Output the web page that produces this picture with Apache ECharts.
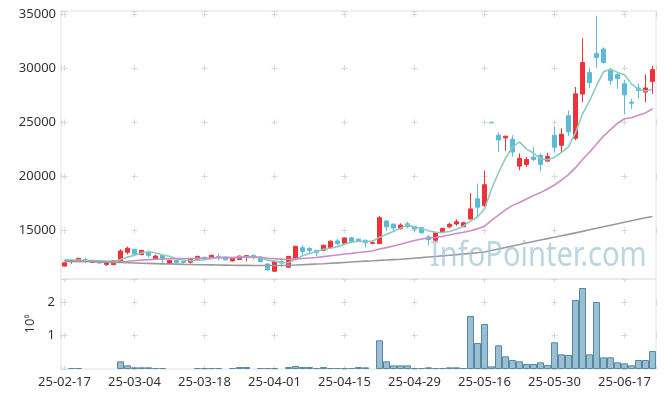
<!DOCTYPE html>
<html>
<head>
<meta charset="utf-8">
<script src="https://cdn.jsdelivr.net/npm/echarts@6.0.0/dist/echarts.min.js"></script>
<style>
  html, body { margin: 0; padding: 0; background: #fff; }
  #chart { width: 665px; height: 397px; }
</style>
</head>
<body>
<div id="chart"></div>
<script>
// trading days (yy-mm-dd)
const dates = [
  '25-02-17','25-02-18','25-02-19','25-02-20','25-02-21','25-02-24','25-02-25','25-02-26','25-02-27','25-02-28',
  '25-03-04','25-03-05','25-03-06','25-03-07','25-03-10','25-03-11','25-03-12','25-03-13','25-03-14','25-03-17',
  '25-03-18','25-03-19','25-03-20','25-03-21','25-03-24','25-03-25','25-03-26','25-03-27','25-03-28','25-03-31',
  '25-04-01','25-04-02','25-04-03','25-04-04','25-04-07','25-04-08','25-04-09','25-04-10','25-04-11','25-04-14',
  '25-04-15','25-04-16','25-04-17','25-04-18','25-04-21','25-04-22','25-04-23','25-04-24','25-04-25','25-04-28',
  '25-04-29','25-04-30','25-05-02','25-05-07','25-05-08','25-05-09','25-05-12','25-05-13','25-05-14','25-05-15',
  '25-05-16','25-05-19','25-05-20','25-05-21','25-05-22','25-05-23','25-05-26','25-05-27','25-05-28','25-05-29',
  '25-05-30','25-06-02','25-06-04','25-06-05','25-06-09','25-06-10','25-06-11','25-06-12','25-06-13','25-06-16',
  '25-06-17','25-06-18','25-06-19','25-06-20','25-06-23'
]

const opens = [
  11720, 12130, 12220, 12310, 12060, 12150, 11880, 11850, 12090, 13000,
  13280, 12780, 12970, 12370, 12740, 11970, 12250, 12150, 12080, 12280,
  12530, 12410, 12600, 12560, 12200, 12320, 12560, 12690, 12560, 11920,
  11250, 12150, 11620, 12410, 13420, 13340, 13180, 13180, 13430, 14050,
  13830, 14330, 14210, 14110, 13820, 13810, 15890, 15600, 15170, 15630,
  15390, 15280, 14420, 14110, 14810, 15350, 15610, 15350, 16070, 17940,
  17310, 25000, 23810, 23560, 23440, 20950, 21110, 21790, 21950, 21420,
  23810, 22880, 25610, 23530, 27610, 29590, 31360, 31770, 29810, 29400,
  28570, 26860, 28170, 27790, 28780
]

const closes = [
  12030, 12250, 12440, 12160, 12250, 12000, 12060, 12220, 13120, 13370,
  12810, 13180, 12720, 12650, 12370, 12250, 12060, 12060, 12360, 12620,
  12410, 12720, 12540, 12300, 12460, 12640, 12690, 12530, 12140, 11360,
  12160, 12000, 12620, 13550, 13070, 13150, 12970, 13650, 14020, 13800,
  14320, 13930, 14050, 13880, 13880, 16190, 15350, 15230, 15510, 15350,
  15140, 14790, 14180, 14790, 15210, 15580, 15820, 15730, 17000, 17160,
  19240, 24950, 23370, 23720, 22250, 21670, 21570, 21570, 21110, 21850,
  22690, 23900, 24120, 27630, 30520, 28660, 30990, 30520, 28870, 29030,
  27540, 26770, 27940, 28170, 29870
]

const lows = [
  11690, 11940, 12200, 12030, 11990, 11980, 11720, 11830, 12060, 12810,
  12620, 12750, 12500, 12330, 12000, 11900, 12040, 11940, 11950, 12250,
  12380, 12380, 12250, 12250, 12150, 12300, 12160, 12320, 12100, 11300,
  11200, 11630, 11600, 12380, 12710, 12810, 12620, 13150, 13400, 13620,
  13800, 13900, 14000, 13460, 13740, 13780, 14980, 14890, 15110, 15200,
  14890, 14760, 13650, 13960, 14780, 15210, 15450, 15320, 16030, 16350,
  17200, 24950, 22250, 22350, 21830, 20580, 20890, 21420, 20480, 21360,
  22200, 22200, 23750, 23350, 26860, 28170, 30030, 30430, 28470, 28100,
  25740, 26240, 27170, 26860, 27630
]

const highs = [
  12060, 12310, 12480, 12500, 12280, 12180, 12080, 12250, 13280, 13530,
  13300, 13220, 13180, 12780, 12760, 12280, 12300, 12180, 12450, 12680,
  12600, 12780, 12870, 12600, 12500, 12700, 12720, 12810, 12600, 11980,
  12180, 12440, 12650, 13600, 13650, 13490, 13200, 13700, 14100, 14240,
  14380, 14380, 14250, 14150, 14110, 16350, 15950, 15650, 15670, 15820,
  15420, 15300, 14580, 14890, 15260, 15730, 16040, 15780, 18470, 19340,
  20550, 25000, 24060, 23750, 23810, 22130, 21790, 22720, 22130, 22200,
  24620, 24440, 26080, 28260, 32760, 30060, 34850, 31920, 30030, 29660,
  28940, 27170, 28570, 29430, 30220
]

const volumes = [
  0, 30000, 30000, 0, 0, 0, 0, 0, 230000, 110000,
  50000, 50000, 50000, 30000, 30000, 0, 0, 0, 0, 30000,
  30000, 30000, 30000, 0, 30000, 60000, 60000, 0, 30000, 30000,
  30000, 0, 60000, 90000, 60000, 60000, 30000, 60000, 30000, 30000,
  30000, 30000, 60000, 50000, 0, 860000, 230000, 110000, 110000, 110000,
  30000, 30000, 50000, 30000, 30000, 50000, 50000, 30000, 1590000, 780000,
  1350000, 80000, 710000, 380000, 270000, 230000, 150000, 150000, 200000, 120000,
  800000, 440000, 420000, 2070000, 2430000, 440000, 2010000, 350000, 350000, 200000,
  170000, 110000, 270000, 270000, 540000
]

// moving averages as drawn on the chart
const ma5 = [
  12300, 12290, 12270, 12240, 12230, 12220, 12180, 12140, 12330, 12550,
  12720, 12940, 13040, 12950, 12750, 12630, 12410, 12280, 12220, 12270,
  12300, 12430, 12530, 12520, 12490, 12530, 12530, 12520, 12490, 12270,
  12180, 12040, 12060, 12340, 12680, 12880, 13070, 13280, 13370, 13520,
  13750, 13940, 14020, 14000, 14010, 14390, 14670, 14910, 15230, 15530,
  15320, 15200, 14990, 14850, 14820, 14910, 15120, 15430, 15870, 16260,
  16990, 18820, 20340, 21690, 22710, 23190, 22520, 22160, 21630, 21550,
  21760, 22220, 22730, 24040, 25770, 26970, 28380, 29660, 29910, 29610,
  29390, 28550, 28030, 27890, 28060
]

const ma20 = [
  12150, 12150, 12160, 12160, 12150, 12130, 12100, 12100, 12130, 12170,
  12220, 12270, 12320, 12360, 12380, 12400, 12410, 12420, 12430, 12450,
  12470, 12490, 12500, 12500, 12510, 12550, 12580, 12590, 12540, 12440,
  12410, 12350, 12350, 12390, 12430, 12470, 12520, 12600, 12680, 12740,
  12840, 12900, 12970, 13050, 13120, 13300, 13430, 13570, 13740, 13930,
  14080, 14220, 14300, 14360, 14470, 14590, 14730, 14840, 14990, 15160,
  15400, 15950, 16420, 16910, 17330, 17600, 17910, 18230, 18510, 18840,
  19210, 19670, 20170, 20810, 21570, 22230, 22990, 23730, 24320, 24910,
  25330, 25420, 25650, 25870, 26250
]

const maLong = [
  12200, 12180, 12160, 12140, 12120, 12100, 12080, 12060, 12050, 12030,
  12010, 11990, 11970, 11950, 11930, 11910, 11900, 11880, 11870, 11850,
  11840, 11830, 11820, 11810, 11800, 11790, 11790, 11780, 11780, 11770,
  11770, 11780, 11800, 11820, 11850, 11880, 11910, 11940, 11980, 12020,
  12060, 12100, 12140, 12180, 12210, 12250, 12290, 12320, 12350, 12400,
  12450, 12500, 12560, 12610, 12670, 12720, 12780, 12840, 12900, 12960,
  13020, 13160, 13300, 13440, 13580, 13720, 13860, 14000, 14130, 14260,
  14390, 14520, 14650, 14790, 14930, 15070, 15210, 15350, 15490, 15630,
  15770, 15910, 16050, 16180, 16310
]

const priceTicks = [15000, 20000, 25000, 30000, 35000]
const volumeTicks = [1000000, 2000000]

const UP = '#ee3237'
const DOWN = '#5cbad5'
const GRID = '#e3e3e3'
const CROSS = '#d8d8d8'
const LABEL = '#333'

const candles = dates.map((d, i) => [opens[i], closes[i], lows[i], highs[i]])
// days with no volume get no bar at all (a zero-height bar would still draw its border)
const volumeBars = volumes.map((v) => (v > 0 ? v : '-'))

function maLine(name, data, color) {
  return {
    name,
    type: 'line',
    xAxisIndex: 0,
    yAxisIndex: 0,
    data,
    symbol: 'none',
    silent: true,
    lineStyle: { width: 1.6, color }
  }
}

const chart = echarts.init(document.getElementById('chart'))

chart.setOption({
  animation: false,
  textStyle: { fontFamily: 'Noto Sans' },
  grid: [
    { left: 61, right: 9, top: 11, height: 268, show: true, borderColor: GRID, borderWidth: 1 },
    { left: 61, right: 9, top: 279, height: 90, show: true, borderColor: GRID, borderWidth: 1 }
  ],
  xAxis: [
    {
      type: 'category',
      gridIndex: 0,
      data: dates,
      axisLine: { show: false },
      axisTick: { show: true, interval: 9, alignWithLabel: true, length: 3, lineStyle: { color: CROSS } },
      axisLabel: { show: false },
      splitLine: { show: false }
    },
    {
      type: 'category',
      gridIndex: 1,
      data: dates,
      axisLine: { show: false },
      axisTick: { show: false },
      axisLabel: { interval: 9, fontSize: 13, color: LABEL, margin: 7 },
      splitLine: { show: false }
    },
    // helper axes: short vertical grid marks at every 10th day
    {
      type: 'value',
      gridIndex: 0,
      position: 'top',
      min: -0.5,
      max: dates.length - 0.5,
      splitNumber: 9,
      axisLine: { show: false },
      axisTick: { show: false },
      axisLabel: { show: false },
      splitLine: { show: true, lineStyle: { color: CROSS, type: [6, 48.14], dashOffset: 0 } }
    },
    {
      type: 'value',
      gridIndex: 1,
      position: 'top',
      min: -0.5,
      max: dates.length - 0.5,
      splitNumber: 9,
      axisLine: { show: false },
      axisTick: { show: false },
      axisLabel: { show: false },
      splitLine: { show: true, lineStyle: { color: CROSS, type: [6, 27.33], dashOffset: 13.03 } }
    }
  ],
  yAxis: [
    {
      type: 'value',
      gridIndex: 0,
      min: 10530,
      max: 35280,
      splitNumber: 5,
      axisLine: { show: false },
      axisTick: { show: false },
      axisLabel: {
        fontSize: 13,
        color: LABEL,
        margin: 5,
        formatter: (v) => (priceTicks.includes(v) ? String(v) : '')
      },
      splitLine: { lineStyle: { color: CROSS, type: [6, 64], dashOffset: 69.5 } }
    },
    {
      type: 'value',
      gridIndex: 1,
      min: 0,
      max: 2700000,
      splitNumber: 3,
      axisLine: { show: false },
      axisTick: { show: false },
      axisLabel: {
        fontSize: 13,
        color: LABEL,
        margin: 6,
        formatter: (v) => (volumeTicks.includes(v) ? String(v / 1000000) : '')
      },
      splitLine: { lineStyle: { color: CROSS, type: [6, 64], dashOffset: 69.5 } },
      name: '{a|10}{b|6}',
      nameLocation: 'middle',
      nameRotate: 90,
      nameGap: 18,
      nameTextStyle: {
        rich: {
          a: { fontSize: 13, color: LABEL },
          b: { fontSize: 7, color: LABEL, verticalAlign: 'top' }
        }
      }
    }
  ],
  graphic: [
    {
      type: 'text',
      x: 430,
      y: 239,
      scaleX: 0.83,
      z: 100,
      silent: true,
      style: {
        text: 'InfoPointer.com',
        fontSize: 35,
        fontFamily: 'Noto Sans',
        fill: 'rgba(160,195,214,0.7)',
        align: 'left',
        verticalAlign: 'top'
      }
    }
  ],
  series: [
    {
      name: 'price',
      type: 'candlestick',
      xAxisIndex: 0,
      yAxisIndex: 0,
      data: candles,
      barWidth: 5,
      silent: true,
      itemStyle: {
        color: UP,
        color0: DOWN,
        borderColor: UP,
        borderColor0: DOWN,
        borderWidth: 1
      }
    },
    maLine('MA5', ma5, '#8ccbbf'),
    maLine('MA20', ma20, '#c98ec8'),
    maLine('MA100', maLong, '#9a9a9a'),
    {
      name: 'volume',
      type: 'bar',
      xAxisIndex: 1,
      yAxisIndex: 1,
      data: volumeBars,
      barWidth: '100%',
      silent: true,
      itemStyle: {
        color: 'rgba(122,170,194,0.75)',
        borderColor: '#5189a6',
        borderWidth: 1
      }
    }
  ]
})
</script>
</body>
</html>
